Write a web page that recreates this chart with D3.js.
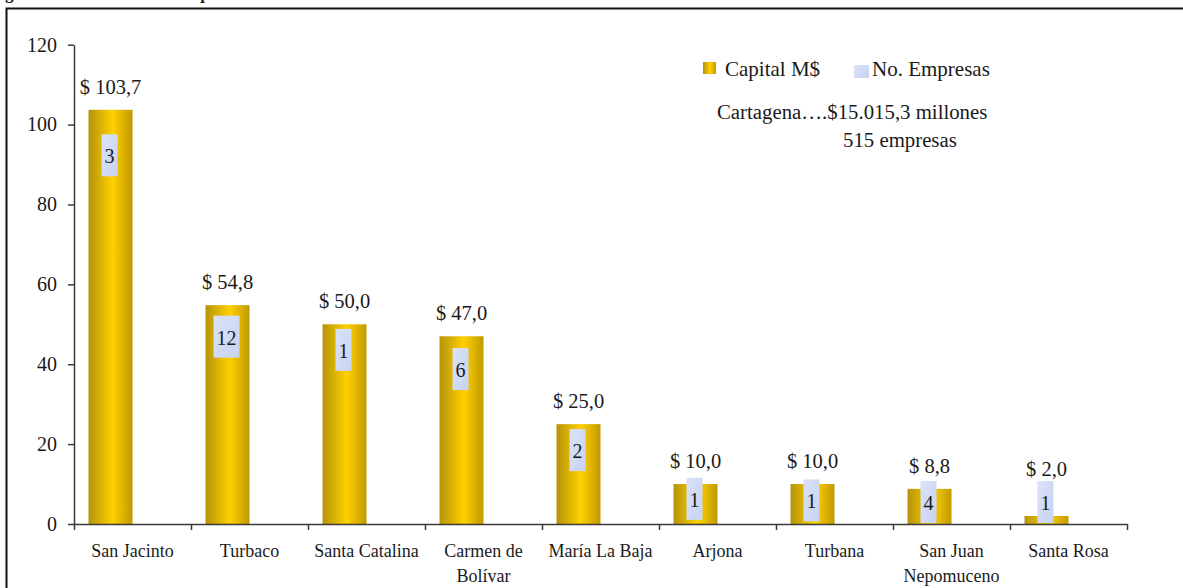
<!DOCTYPE html>
<html>
<head>
    <meta charset="utf-8">
    <title>Capital y empresas por municipio</title>
    <style type="text/css">
        body {
            margin: 0;
            background: #fff;
        }
        svg text {
            font-family: 'Liberation Serif', 'Times New Roman', serif;
            fill: #1a1a1a;
        }
        .axis path, .axis line {
            stroke: #3a3a3a;
            stroke-width: 1.5px;
        }
        .axis text {
            font-size: 20px;
            font-family: 'Liberation Serif', serif;
            fill: #1a1a1a;
        }
    </style>
</head>
<body>
<script src="https://cdn.jsdelivr.net/npm/d3@7/dist/d3.min.js"></script>
<script>

    // datos
    var categories = ["San Jacinto", "Turbaco", "Santa Catalina", "Carmen de Bolívar", "María La Baja",
                      "Arjona", "Turbana", "San Juan Nepomuceno", "Santa Rosa"];
    var tickLabels = [["San Jacinto"], ["Turbaco"], ["Santa Catalina"], ["Carmen de", "Bolívar"], ["María La Baja"],
                      ["Arjona"], ["Turbana"], ["San Juan", "Nepomuceno"], ["Santa Rosa"]];
    var capital = [103.7, 54.8, 50.0, 47.0, 25.0, 10.0, 10.0, 8.8, 2.0];      // millones $
    var empresas = [3, 12, 1, 6, 2, 1, 1, 4, 1];
    // where the "No. Empresas" label box sits (centre, in capital units)
    var empLabelPos = [92.3, 46.9, 43.6, 38.8, 18.5, 6.3, 5.9, 5.5, 5.5];
    var yTicks = [0, 20, 40, 60, 80, 100, 120];
    var series = ["Capital M$", "No. Empresas"];
    var notes = ["Cartagena….$15.015,3 millones", "515 empresas"];

    var width = 1183,
        height = 588;

    var svg = d3.select("body").append("svg")
        .attr("width", width)
        .attr("height", height);

    var defs = svg.append("defs");
    var gold = defs.append("linearGradient").attr("id", "gold")
        .attr("x1", "0").attr("x2", "1").attr("y1", "0").attr("y2", "0");
    gold.append("stop").attr("offset", "0").attr("stop-color", "#b5930a");
    gold.append("stop").attr("offset", "0.55").attr("stop-color", "#ffd000");
    gold.append("stop").attr("offset", "1").attr("stop-color", "#bf9a00");

    var blue = defs.append("linearGradient").attr("id", "blue")
        .attr("x1", "0").attr("x2", "1").attr("y1", "0").attr("y2", "1");
    blue.append("stop").attr("offset", "0").attr("stop-color", "#d9e2f7");
    blue.append("stop").attr("offset", "1").attr("stop-color", "#c8d3f3");

    // titulo (cortado arriba, como en el original)
    svg.append("text")
        .attr("x", -10)
        .attr("y", -1)
        .style("font-size", "17px")
        .style("font-weight", "700")
        .text("Figura 3. Constitución de empresas");

    // marco
    svg.append("rect")
        .attr("x", 6.5).attr("y", 8.5)
        .attr("width", 1300).attr("height", 700)
        .attr("fill", "none")
        .attr("stroke", "#111")
        .attr("stroke-width", 2);

    var x = d3.scaleBand()
        .domain(categories)
        .range([74, 1127])
        .paddingInner(0)
        .paddingOuter(0);

    var xSub = d3.scaleBand()
        .domain(series)
        .range([0, x.bandwidth()])
        .paddingInner(0)
        .paddingOuter(0.33);

    var xEdge = d3.scaleLinear()
        .domain([0, categories.length])
        .range(x.range());

    var y = d3.scaleLinear()
        .domain([0, 120])
        .range([524, 44.7]);

    var fmt = d3.format(".1f");

    // eje y
    svg.append("g")
        .attr("class", "axis")
        .attr("transform", "translate(74,0)")
        .call(d3.axisLeft(y).tickValues(yTicks).tickSize(6).tickSizeOuter(0).tickPadding(11));

    // barras capital
    var bars = svg.append("g").selectAll("g")
        .data(categories)
        .enter().append("g")
        .attr("transform", function (d) { return "translate(" + x(d) + ",0)"; });

    bars.append("rect")
        .attr("x", xSub(series[0]))
        .attr("width", xSub.bandwidth())
        .attr("y", function (d, i) { return y(capital[i]); })
        .attr("height", function (d, i) { return y(0) - y(capital[i]); })
        .attr("fill", "url(#gold)");

    // etiquetas No. Empresas (caja azul) y capital
    var cx = xSub(series[0]) + xSub.bandwidth() / 2 - 1;
    bars.each(function (d, i) {
        var g = d3.select(this);
        var cy = y(empLabelPos[i]);
        var t = g.append("text")
            .attr("x", cx)
            .attr("y", cy)
            .attr("dy", "0.4em")
            .attr("text-anchor", "middle")
            .style("font-size", "20px")
            .text(empresas[i]);
        var w = t.node().getComputedTextLength() + 6;
        g.insert("rect", "text")
            .attr("x", cx - w / 2)
            .attr("y", cy - 21)
            .attr("width", w)
            .attr("height", 42)
            .attr("fill", "url(#blue)");

        var ly = Math.min(y(capital[i]) - 16, cy - 21 - 5);
        g.append("text")
            .attr("x", cx + 1)
            .attr("y", ly)
            .attr("text-anchor", "middle")
            .style("font-size", "20.5px")
            .text("$ " + fmt(capital[i]).replace(".", ","));
    });

    // eje x
    svg.append("g")
        .attr("class", "axis")
        .attr("transform", "translate(0,524)")
        .call(d3.axisBottom(xEdge).tickValues(d3.range(0, categories.length + 1))
            .tickFormat("").tickSize(6).tickSizeOuter(0));

    svg.append("g").selectAll("text")
        .data(categories)
        .enter().append("text")
        .attr("x", function (d) { return x(d) + x.bandwidth() / 2; })
        .attr("y", 557)
        .attr("text-anchor", "middle")
        .style("font-size", "18px")
        .each(function (d, i) {
            var el = d3.select(this);
            tickLabels[i].forEach(function (line, j) {
                el.append("tspan")
                    .attr("x", x(d) + x.bandwidth() / 2)
                    .attr("dy", j === 0 ? 0 : 25)
                    .text(line);
            });
        });

    // leyenda
    var legend = svg.append("g");
    legend.append("rect")
        .attr("x", 703).attr("y", 62).attr("width", 13).attr("height", 12)
        .attr("fill", "url(#gold)");
    legend.append("text")
        .attr("x", 725).attr("y", 76)
        .style("font-size", "21px")
        .text(series[0]);
    legend.append("rect")
        .attr("x", 854).attr("y", 65).attr("width", 15).attr("height", 13)
        .attr("fill", "url(#blue)");
    legend.append("text")
        .attr("x", 872).attr("y", 76)
        .style("font-size", "21px")
        .text(series[1]);

    // nota Cartagena
    svg.append("text")
        .attr("x", 717).attr("y", 119)
        .style("font-size", "20.8px")
        .text(notes[0]);
    svg.append("text")
        .attr("x", 843).attr("y", 147)
        .style("font-size", "20.8px")
        .text(notes[1]);

</script>
</body>
</html>
